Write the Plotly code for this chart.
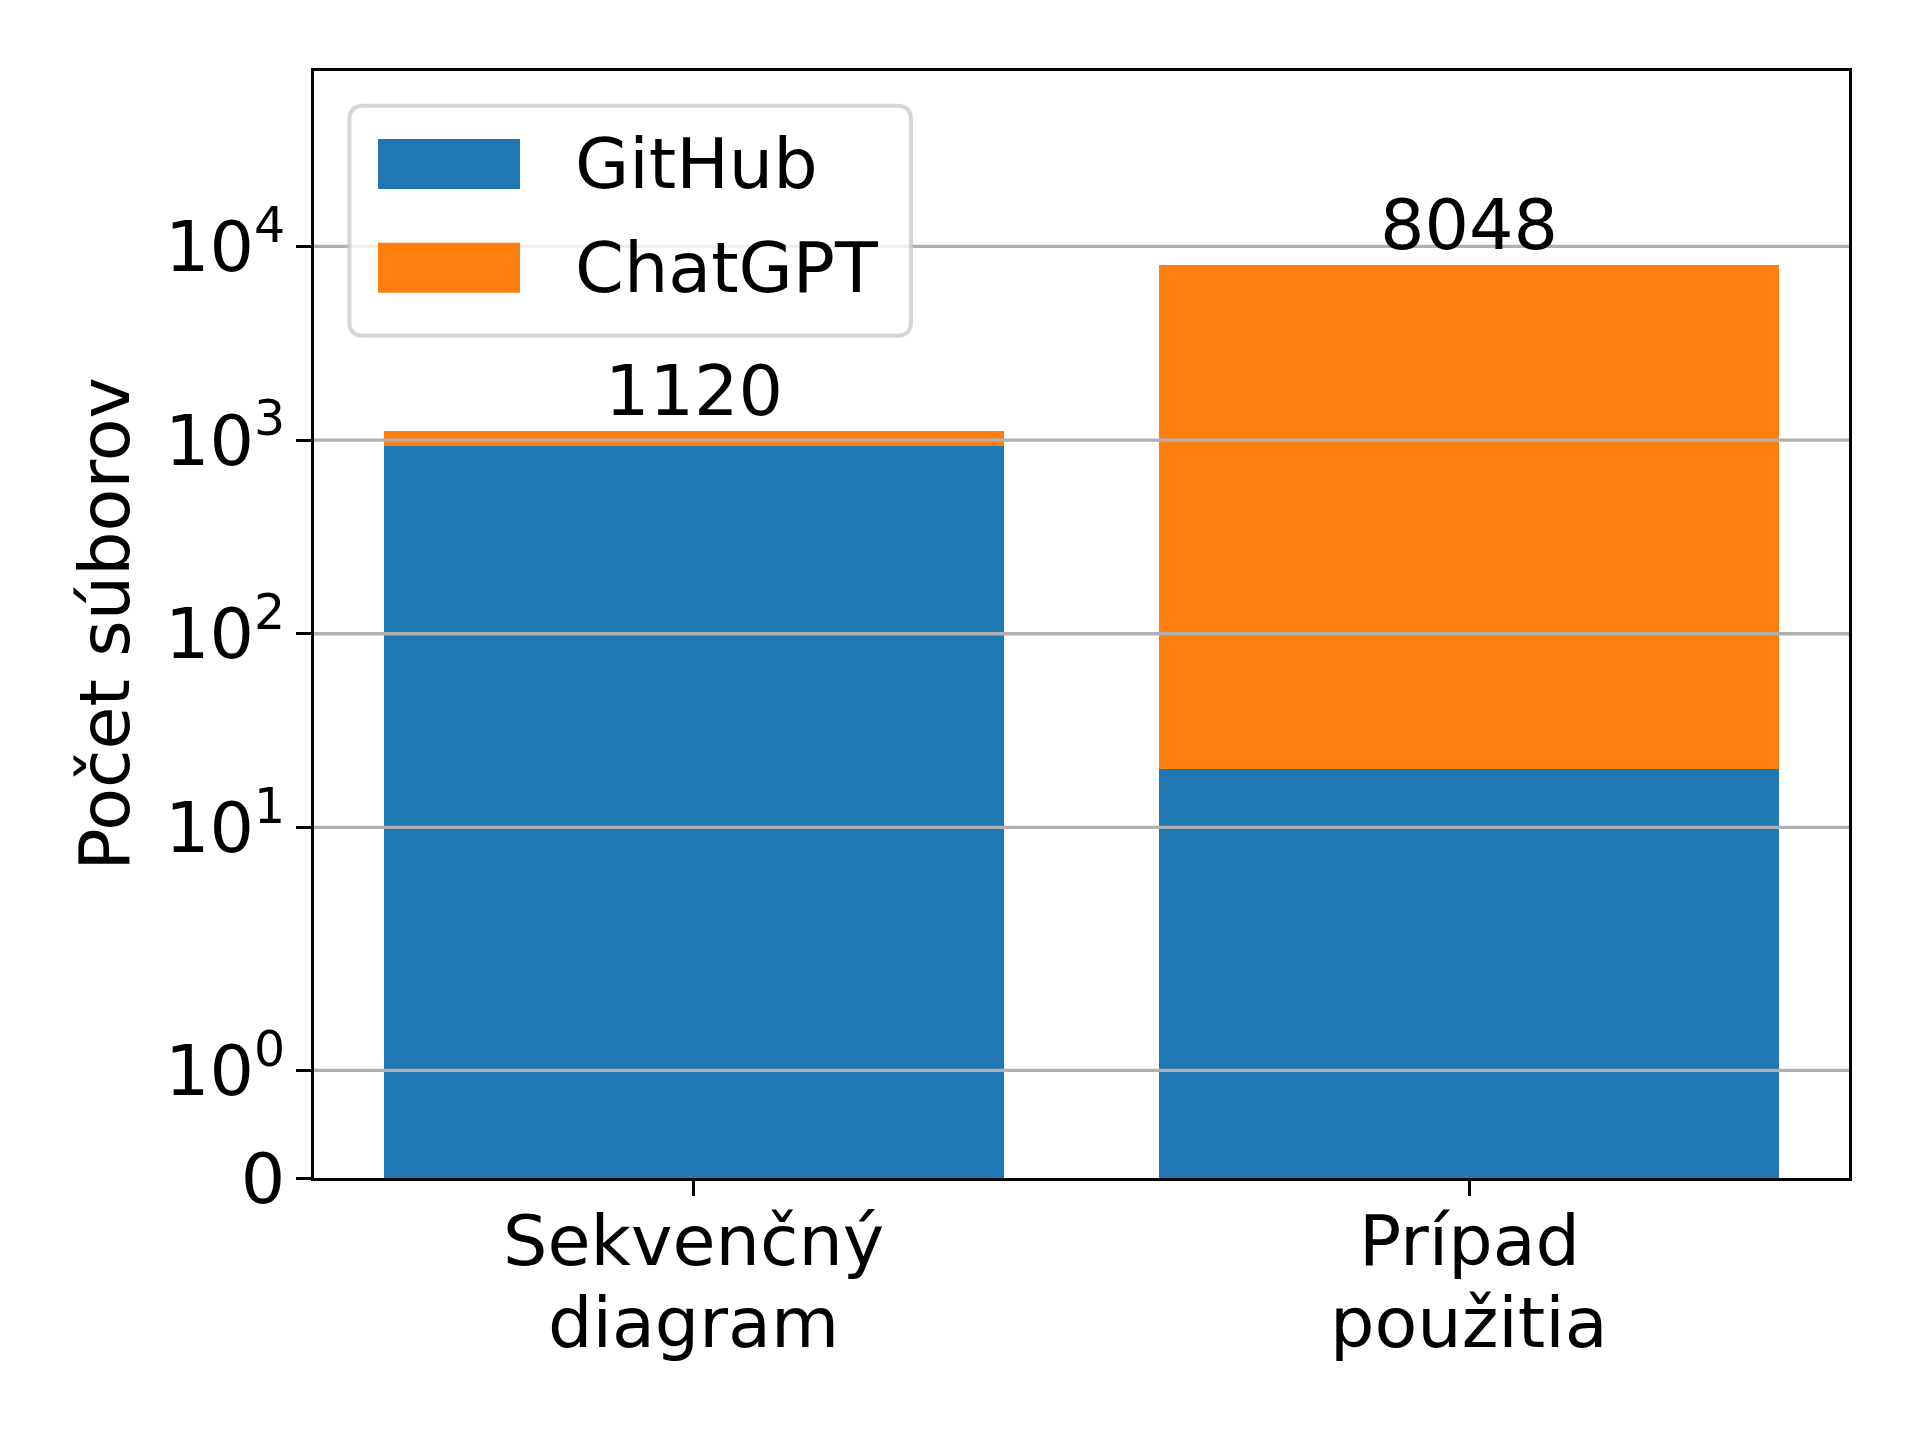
import math
import plotly.graph_objects as go

# ---- data ----
categories = ["Sekvenčný<br>diagram", "Prípad<br>použitia"]
github = [932, 20]
chatgpt = [188, 8028]
series_names = ["GitHub", "ChatGPT"]
colors = ["#1f77b4", "#ff7f0e"]
ytick_values = [0, 1, 10, 100, 1000, 10000]
ytick_labels = ["0", "10<sup>0</sup>", "10<sup>1</sup>", "10<sup>2</sup>", "10<sup>3</sup>", "10<sup>4</sup>"]


def symlog(v, linthresh=2.0, linscale=1.0, base=10.0):
    adj = linscale / (1.0 - 1.0 / base)
    a = abs(v)
    if a <= linthresh:
        return v * adj
    s = 1 if v > 0 else -1
    return s * linthresh * (adj + math.log(a / linthresh) / math.log(base))


totals = [g + c for g, c in zip(github, chatgpt)]
xpos = list(range(len(categories)))

FONT = "DejaVu Sans"
FS = 70
W, H = 1920, 1440
ML, MR, MT, MB = 314, 71, 71, 262
PW, PH = W - ML - MR, H - MT - MB

ytop = symlog(10 * max(totals))

fig = go.Figure()
fig.add_trace(go.Bar(
    x=xpos, y=[symlog(g) for g in github], base=[0] * len(github),
    width=0.8, marker=dict(color=colors[0], line=dict(width=0)),
    name=series_names[0], showlegend=False,
))
fig.add_trace(go.Bar(
    x=xpos, y=[symlog(t) - symlog(g) for t, g in zip(totals, github)],
    base=[symlog(g) for g in github],
    width=0.8, marker=dict(color=colors[1], line=dict(width=0)),
    name=series_names[1], showlegend=False,
))


def px2paper_x(px):
    return (px - ML) / PW


def px2paper_y(py):
    return (H - MB - py) / PH


shapes = []
# gridlines drawn above bars (as in the reference)
for v in ytick_values[1:]:
    shapes.append(dict(type="line", xref="paper", x0=0, x1=1, yref="y",
                       y0=symlog(v), y1=symlog(v), layer="above",
                       line=dict(color="#b0b0b0", width=3.3)))

# legend box (rounded)
lx0, lx1, ly0, ly1, r = 349.4, 911.0, 105.7, 335.7, 14
def rr_path(x0, x1, y0, y1, r):
    X = px2paper_x
    Y = px2paper_y
    rx = r / PW
    ry = r / PH
    a, b = X(x0), X(x1)
    top, bot = Y(y0), Y(y1)
    return (f"M {a+rx},{top} L {b-rx},{top} Q {b},{top} {b},{top-ry} "
            f"L {b},{bot+ry} Q {b},{bot} {b-rx},{bot} L {a+rx},{bot} "
            f"Q {a},{bot} {a},{bot+ry} L {a},{top-ry} Q {a},{top} {a+rx},{top} Z")

shapes.append(dict(type="path", xref="paper", yref="paper", layer="above",
                   path=rr_path(lx0, lx1, ly0, ly1, r),
                   fillcolor="rgba(255,255,255,0.8)",
                   line=dict(color="rgba(204,204,204,0.8)", width=4)))

annotations = []
patch_rows = [(139, 189), (242.7, 292.7)]
for i, (py0, py1) in enumerate(patch_rows):
    shapes.append(dict(type="rect", xref="paper", yref="paper", layer="above",
                       x0=px2paper_x(378), x1=px2paper_x(520),
                       y0=px2paper_y(py1), y1=px2paper_y(py0),
                       fillcolor=colors[i], line=dict(width=0)))
    annotations.append(dict(xref="paper", yref="paper", x=px2paper_x(573),
                            y=px2paper_y((py0 + py1) / 2), xanchor="left",
                            yanchor="middle", showarrow=False,
                            text=series_names[i],
                            font=dict(family=FONT, size=FS, color="black")))

# totals on top of bars
for xi, t in zip(xpos, totals):
    annotations.append(dict(x=xi, y=symlog(t), xref="x", yref="y",
                            text=str(t), showarrow=False, yanchor="bottom",
                            xanchor="center", yshift=-3,
                            font=dict(family=FONT, size=FS, color="black")))

# x category labels (two lines each, matplotlib-like line spacing)
line_centers_px = [1241.4, 1322.8]
for xi, cat in zip(xpos, categories):
    for li, part in enumerate(cat.split("<br>")):
        annotations.append(dict(x=xi, xref="x", yref="paper",
                                y=px2paper_y(line_centers_px[li]),
                                text=part, showarrow=False, xanchor="center",
                                yanchor="middle",
                                font=dict(family=FONT, size=FS, color="black")))

# y-axis label
annotations.append(dict(xref="paper", yref="paper", x=px2paper_x(104), y=0.5,
                        text="Počet súborov", textangle=-90, showarrow=False,
                        xanchor="center", yanchor="middle",
                        font=dict(family=FONT, size=FS, color="black")))

fig.update_layout(
    width=W, height=H,
    margin=dict(l=ML, r=MR, t=MT, b=MB, pad=0),
    paper_bgcolor="white", plot_bgcolor="white",
    barmode="overlay", bargap=0,
    font=dict(family=FONT, size=FS, color="black"),
    shapes=shapes, annotations=annotations,
    showlegend=False,
)
fig.update_xaxes(
    range=[-0.49, 1.49], tickmode="array", tickvals=xpos,
    ticktext=["" for _ in categories],
    showgrid=False, zeroline=False, showline=True, linecolor="black",
    linewidth=3.3, mirror=True, ticks="outside", ticklen=14.6, tickwidth=3.3,
    tickcolor="black", tickfont=dict(family=FONT, size=FS, color="black"),
)
fig.update_yaxes(
    range=[0, ytop], tickmode="array",
    tickvals=[symlog(v) for v in ytick_values], ticktext=ytick_labels,
    showgrid=False, zeroline=False, showline=True, linecolor="black",
    linewidth=3.3, mirror=True, ticks="outside", ticklen=14.6, tickwidth=3.3,
    tickcolor="black", ticklabelstandoff=-3,
    tickfont=dict(family=FONT, size=FS, color="black"),
)

fig.write_html("out.html")
